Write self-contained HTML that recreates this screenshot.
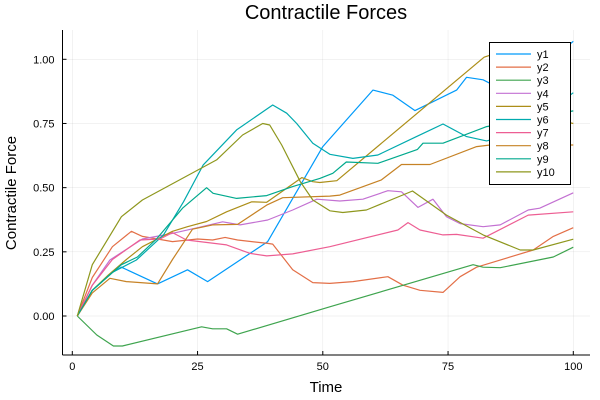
<!DOCTYPE html>
<html><head><meta charset="utf-8"><style>
html,body{margin:0;padding:0;background:#fff;}
svg{display:block;font-family:"Liberation Sans","DejaVu Sans",sans-serif;}
</style></head><body>
<svg id="chart" width="600" height="400" viewBox="0 0 600 400" xmlns="http://www.w3.org/2000/svg">
<rect x="0" y="0" width="600" height="400" fill="#fff"/>
<text x="326" y="19" font-size="20" text-anchor="middle" fill="#000">Contractile Forces</text>
<text x="326" y="392" font-size="15" text-anchor="middle" fill="#000">Time</text>
<text transform="translate(16,193) rotate(-90)" font-size="15" text-anchor="middle" fill="#000">Contractile Force</text>
<g id="grid"></g><g id="series"></g><g id="axes"></g><g id="legend"></g>
</svg>
<script>
const xTicks=[0,25,50,75,100];
const yTicks=[0,0.25,0.5,0.75,1.0];
const yTickLabels=["0.00","0.25","0.50","0.75","1.00"];
const seriesNames=["y1","y2","y3","y4","y5","y6","y7","y8","y9","y10"];
const colors=["#009AFA","#E36F47","#3EA44E","#C371D2","#AC8E18","#00AAAE","#ED5E93","#C68225","#00A98D","#8E971D"];
const y1x=[1,4,8,9.8,17,23,27,39,50,60,64,68.4,76.7,78.7,82,85,90,95,100];
const y1y=[0,0.1,0.17,0.19,0.125,0.18,0.134,0.29,0.66,0.88,0.86,0.80,0.88,0.93,0.92,0.89,0.93,0.99,1.07];
const y2x=[1,4,8,11.8,14,20,25,28,30.5,33,39,40,44,48,51.4,56,63,66,69.4,74,77.4,80.7,92,96,100];
const y2y=[0,0.15,0.27,0.33,0.31,0.29,0.30,0.296,0.306,0.296,0.283,0.28,0.18,0.13,0.127,0.134,0.153,0.12,0.10,0.092,0.153,0.19,0.257,0.31,0.344];
const y3x=[1,4.9,8.2,10,25.8,28,30.8,33,51.4,80,82,85.4,96,100];
const y3y=[0,-0.074,-0.117,-0.117,-0.042,-0.05,-0.05,-0.071,0.036,0.2,0.19,0.188,0.23,0.268];
const y4x=[1,4,7.5,14,19.5,25,30,33.5,39,44,48.8,53.4,58,63,65.7,69,72,74.7,77.4,82,85.4,91,93.3,100];
const y4y=[0,0.12,0.218,0.30,0.32,0.344,0.367,0.355,0.374,0.413,0.455,0.448,0.455,0.488,0.484,0.423,0.455,0.387,0.36,0.348,0.355,0.413,0.42,0.48];
const y5x=[1,4,7.2,10.8,14,18,20,23,26.8,30.8,35.8,38.8,45.8,48,49.4,52.8,82.2,84,88,100];
const y5y=[0,0.1,0.16,0.22,0.27,0.31,0.33,0.348,0.368,0.406,0.445,0.443,0.539,0.523,0.52,0.527,1.008,1.02,0.8,0.75];
const y6x=[1,4,8,12.8,18.2,22.2,26.1,32.8,40,42.8,44.8,48,51.4,56,61,68.7,74,78.7,82.7,90,100];
const y6y=[0,0.1,0.17,0.218,0.316,0.445,0.588,0.725,0.822,0.79,0.75,0.673,0.63,0.614,0.627,0.699,0.748,0.699,0.682,0.72,0.87];
const y7x=[1,4,8,13.5,17.5,20,22.8,30.8,35.5,38.8,44,51.4,65,67,69.4,74,76.7,82,91,100];
const y7y=[0,0.12,0.22,0.296,0.30,0.325,0.296,0.277,0.244,0.234,0.242,0.27,0.335,0.364,0.335,0.316,0.318,0.303,0.393,0.406];
const y8x=[1,4,7.5,10.8,17,20,24,28,33,38.8,42,51.4,53.4,61.7,65.7,71.4,80.7,83.4,100];
const y8y=[0,0.09,0.147,0.134,0.125,0.22,0.338,0.355,0.357,0.432,0.461,0.467,0.471,0.53,0.59,0.59,0.66,0.666,0.666];
const y9x=[1,4,9.8,13,16.8,22,26.8,28.1,32.8,38.8,44,49.4,52,54.7,61,68.9,70,74,82.7,100];
const y9y=[0,0.1,0.2,0.23,0.30,0.42,0.5,0.478,0.458,0.469,0.504,0.536,0.556,0.60,0.595,0.649,0.673,0.673,0.738,0.799];
const y10x=[1,4,9.8,14,28.8,34,38,39.4,41.8,45.5,48,51.4,54,58.7,67.9,74.7,82,89.4,92,100];
const y10y=[0,0.2,0.387,0.452,0.608,0.705,0.75,0.744,0.666,0.523,0.452,0.41,0.403,0.413,0.487,0.393,0.316,0.257,0.257,0.299];
const seriesX=[y1x,y2x,y3x,y4x,y5x,y6x,y7x,y8x,y9x,y10x];
const seriesY=[y1y,y2y,y3y,y4y,y5y,y6y,y7y,y8y,y9y,y10y];

const NS="http://www.w3.org/2000/svg";
const L=62.5,R=590,T=30,B=355;
function sx(v){return 72.3+v*5.01;}
function sy(v){return 316-v*256.7;}
function mk(tag,attrs,parent){const e=document.createElementNS(NS,tag);for(const k in attrs)e.setAttribute(k,attrs[k]);parent.appendChild(e);return e;}
const grid=document.getElementById('grid'),axes=document.getElementById('axes'),ser=document.getElementById('series'),leg=document.getElementById('legend');
xTicks.forEach(t=>{
  const g=mk('line',{x1:sx(t),x2:sx(t),y1:T,y2:B,stroke:'#000','stroke-opacity':0.1,'stroke-width':0.5},grid);
  
  
  const tk=mk('line',{x1:sx(t),x2:sx(t),y1:B,y2:B-4,stroke:'#000','stroke-width':1},axes);
  
  
  const tx=mk('text',{x:sx(t),y:B+15,'font-size':11,'text-anchor':'middle',fill:'#000'},axes);
  tx.textContent=String(t);
  
  
});
yTicks.forEach((t,i)=>{
  const g=mk('line',{x1:L,x2:R,y1:sy(t),y2:sy(t),stroke:'#000','stroke-opacity':0.1,'stroke-width':0.5},grid);
  
  
  const tk=mk('line',{x1:L,x2:L+4,y1:sy(t),y2:sy(t),stroke:'#000','stroke-width':1},axes);
  
  
  const tx=mk('text',{x:L-8,y:sy(t)+4,'font-size':11,'text-anchor':'end',fill:'#000'},axes);
  tx.textContent=yTickLabels[i];
  
  
});
const xa=mk('line',{x1:L,x2:R,y1:B,y2:B,stroke:'#000','stroke-width':1},axes);


const ya=mk('line',{x1:L,x2:L,y1:T,y2:B,stroke:'#000','stroke-width':1},axes);


seriesNames.forEach((n,i)=>{
  const pts=seriesX[i].map((x,j)=>sx(x).toFixed(1)+','+sy(seriesY[i][j]).toFixed(1)).join(' ');
  const p=mk('polyline',{points:pts,fill:'none',stroke:colors[i],'stroke-width':1.2,'stroke-linejoin':'round'},ser);
  
  
});
const box=mk('rect',{x:489.5,y:42.5,width:81,height:142,fill:'#fff',stroke:'#000','stroke-width':1},leg);


seriesNames.forEach((n,i)=>{
  const yy=54+i*13.1;
  const g=mk('g',{},leg);
  
  
  mk('line',{x1:496,x2:531,y1:yy,y2:yy,stroke:colors[i],'stroke-width':1.2},g);
  const t=mk('text',{x:537,y:yy+4,'font-size':11,fill:'#000'},g);
  t.textContent=n;
});
</script>
</body></html>
